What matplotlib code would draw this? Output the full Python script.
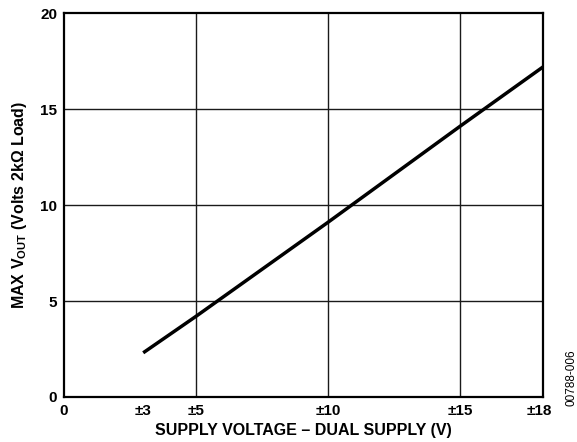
import matplotlib
matplotlib.use("Agg")
import matplotlib.pyplot as plt

# supply voltage (±V) vs max output swing, 2k load
supply_v = [3, 5, 10, 15, 18.15]
max_vout = [2.3, 4.2, 9.1, 14.1, 17.2]

x_ticks = [0, 3, 5, 10, 15, 18]
x_ticklabels = ["0", "±3", "±5", "±10", "±15", "±18"]
y_ticks = [0, 5, 10, 15, 20]

plt.rcParams["font.family"] = ["Liberation Sans", "DejaVu Sans"]
plt.rcParams["font.weight"] = "bold"
plt.rcParams["mathtext.fontset"] = "custom"
plt.rcParams["mathtext.rm"] = "Liberation Sans:bold"
plt.rcParams["mathtext.default"] = "rm"

fig = plt.figure(figsize=(5.77, 4.42), dpi=100)
ax = fig.add_axes([0.111, 0.102, 0.830, 0.868])

ax.plot(supply_v, max_vout, color="black", linewidth=2.5, solid_capstyle="butt")

ax.set_xlim(0, 18.15)
ax.set_ylim(0, 20)
ax.set_xticks(x_ticks)
ax.set_xticklabels(x_ticklabels)
ax.set_yticks(y_ticks)

# grid only at 5/10/15
for v in [5, 10, 15]:
    ax.axvline(v, color="#1a1a1a", linewidth=1.0, zorder=0)
    ax.axhline(v, color="#1a1a1a", linewidth=1.0, zorder=0)

for s in ax.spines.values():
    s.set_linewidth(1.6)

ax.tick_params(length=0, labelsize=11, pad=5)
for lbl in ax.get_xticklabels() + ax.get_yticklabels():
    lbl.set_fontweight("bold")

ax.set_xlabel("SUPPLY VOLTAGE – DUAL SUPPLY (V)", fontsize=11.5, fontweight="bold", labelpad=4)
ax.set_ylabel(r"MAX V$_{\mathrm{OUT}}$ (Volts 2kΩ Load)", fontsize=11.5, fontweight="bold", labelpad=8)

fig.text(0.991, 0.145, "00788-006", rotation=90, fontsize=8.5, fontweight="normal",
         ha="center", va="center")

fig.savefig("out.png", dpi=100)
